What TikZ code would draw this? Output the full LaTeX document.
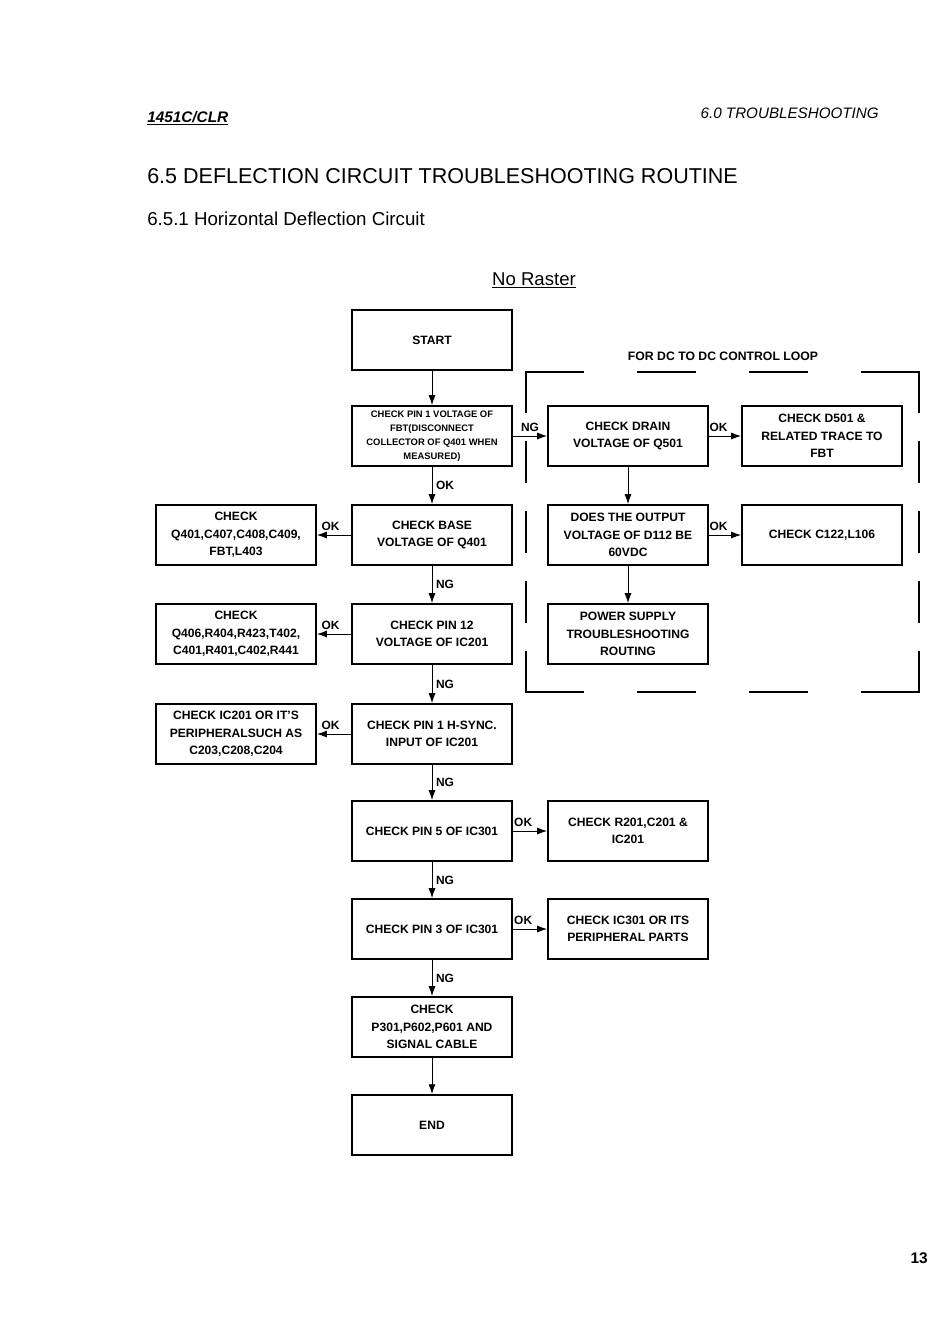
\documentclass[tikz,border=0pt]{standalone}
\usepackage{fontspec}
\setmainfont{Liberation Sans}
\usetikzlibrary{arrows.meta}
\tikzset{
  stepbox/.style={draw, line width=1.3pt, minimum width=4cm, minimum height=1.5cm, inner sep=2pt, align=center, font=\fontsize{8.6}{12.5}\selectfont\bfseries},
  tinybox/.style={stepbox, font=\fontsize{6.7}{10}\selectfont\bfseries},
  flow/.style={line width=0.7pt, -{Latex[length=7pt,width=5pt]}},
  tag/.style={font=\fontsize{8.5}{10}\selectfont\bfseries, inner sep=2.5pt},
  heading/.style={inner sep=0pt},
  loopframe/.style={line width=1.4pt, line cap=rect}
}
\begin{document}
\begin{tikzpicture}[x=0.025cm, y=-0.025cm]
    \useasboundingbox (0,0) rectangle (950,1343);
    %CABECERA:
    \node[heading, anchor=base west, font=\fontsize{10.9}{13}\selectfont\bfseries\itshape] (model) at (147,122) {\underline{1451C/CLR}};
    \node[heading, anchor=base east, font=\fontsize{10.8}{13}\selectfont\itshape] (chapter) at (879,118) {6.0 TROUBLESHOOTING};
    \node[heading, anchor=base west, font=\fontsize{15.3}{18}\selectfont] (title) at (147,183) {6.5 DEFLECTION CIRCUIT TROUBLESHOOTING ROUTINE};
    \node[heading, anchor=base west, font=\fontsize{13.3}{16}\selectfont] (subtitle) at (147,225) {6.5.1 Horizontal Deflection Circuit};
    \node[heading, anchor=base, font=\fontsize{13.2}{16}\selectfont] (symptom) at (534,285) {\underline{No Raster}};
    \node[heading, anchor=base east, font=\fontsize{11}{13}\selectfont\bfseries] (page) at (928,1263) {13};
    %COLUMNA CENTRAL:
     \begin{scope}
     %cajas ----------------------------
     \node[stepbox] (start) at (432,340) {START};
     \node[tinybox] (pin1) at (432,436) {CHECK PIN 1 VOLTAGE OF\\FBT(DISCONNECT\\COLLECTOR OF Q401 WHEN\\MEASURED)};
     \node[stepbox] (base) at (432,535) {CHECK BASE\\VOLTAGE OF Q401};
     \node[stepbox] (pin12) at (432,634) {CHECK PIN 12\\VOLTAGE OF IC201};
     \node[stepbox] (hsync) at (432,734) {CHECK PIN 1 H-SYNC.\\INPUT OF IC201};
     \node[stepbox] (pin5) at (432,831) {CHECK PIN 5 OF IC301};
     \node[stepbox] (pin3) at (432,929) {CHECK PIN 3 OF IC301};
     \node[stepbox] (cable) at (432,1027) {CHECK\\P301,P602,P601 AND\\SIGNAL CABLE};
     \node[stepbox] (end) at (432,1125) {END};
     %flechas --------------------------
     \draw[flow] (start) -- (pin1);
     \draw[flow] (pin1) -- node[tag,right]{OK} (base);
     \draw[flow] (base) -- node[tag,right]{NG} (pin12);
     \draw[flow] (pin12) -- node[tag,right]{NG} (hsync);
     \draw[flow] (hsync) -- node[tag,right]{NG} (pin5);
     \draw[flow] (pin5) -- node[tag,right]{NG} (pin3);
     \draw[flow] (pin3) -- node[tag,right]{NG} (cable);
     \draw[flow] (cable) -- (end);
     %----------------------------------
     \end{scope}
    %COLUMNA IZQUIERDA:
     \begin{scope}
     \node[stepbox] (q401) at (236,535) {CHECK\\Q401,C407,C408,C409,\\FBT,L403};
     \node[stepbox] (q406) at (236,634) {CHECK\\Q406,R404,R423,T402,\\C401,R401,C402,R441};
     \node[stepbox] (ic201) at (236,734) {CHECK IC201 OR IT'S\\PERIPHERALSUCH AS\\C203,C208,C204};
     \draw[flow] (base) -- node[tag,above,pos=.6]{OK} (q401);
     \draw[flow] (pin12) -- node[tag,above,pos=.6]{OK} (q406);
     \draw[flow] (hsync) -- node[tag,above,pos=.6]{OK} (ic201);
     %----------------------------------
     \end{scope}
    %COLUMNA DERECHA:
     \begin{scope}
     \node[stepbox] (r201) at (628,831) {CHECK R201,C201 \&\\IC201};
     \node[stepbox] (ic301) at (628,929) {CHECK IC301 OR ITS\\PERIPHERAL PARTS};
     \draw[flow] (pin5) -- node[tag,above,pos=.3]{OK} (r201);
     \draw[flow] (pin3) -- node[tag,above,pos=.3]{OK} (ic301);
     %----------------------------------
     \end{scope}
    %LAZO DC-DC:
     \begin{scope}
     %marco discontinuo ----------------
     \draw[loopframe, dash pattern=on 1.425cm off 1.375cm] (526,372) -- (919,372);
     \draw[loopframe, dash pattern=on 1.425cm off 1.375cm] (526,692) -- (919,692);
     \draw[loopframe, dash pattern=on 1cm off 0.75cm] (526,372) -- (526,692);
     \draw[loopframe, dash pattern=on 1cm off 0.75cm] (919,372) -- (919,692);
     \node[font=\fontsize{8.7}{10}\selectfont\bfseries] (looptitle) at (723,356) {FOR DC TO DC CONTROL LOOP};
     %cajas ----------------------------
     \node[stepbox] (drain) at (628,436) {CHECK DRAIN\\VOLTAGE OF Q501};
     \node[stepbox] (d501) at (822,436) {CHECK D501 \&\\RELATED TRACE TO\\FBT};
     \node[stepbox] (d112) at (628,535) {DOES THE OUTPUT\\VOLTAGE OF D112 BE\\60VDC};
     \node[stepbox] (c122) at (822,535) {CHECK C122,L106};
     \node[stepbox] (psu) at (628,634) {POWER SUPPLY\\TROUBLESHOOTING\\ROUTING};
     %flechas --------------------------
     \draw[flow] (pin1) -- node[tag,above]{NG} (drain);
     \draw[flow] (drain) -- node[tag,above,pos=.3]{OK} (d501);
     \draw[flow] (drain) -- (d112);
     \draw[flow] (d112) -- node[tag,above,pos=.3]{OK} (c122);
     \draw[flow] (d112) -- (psu);
     %----------------------------------
     \end{scope}
    \end{tikzpicture}
\end{document}
